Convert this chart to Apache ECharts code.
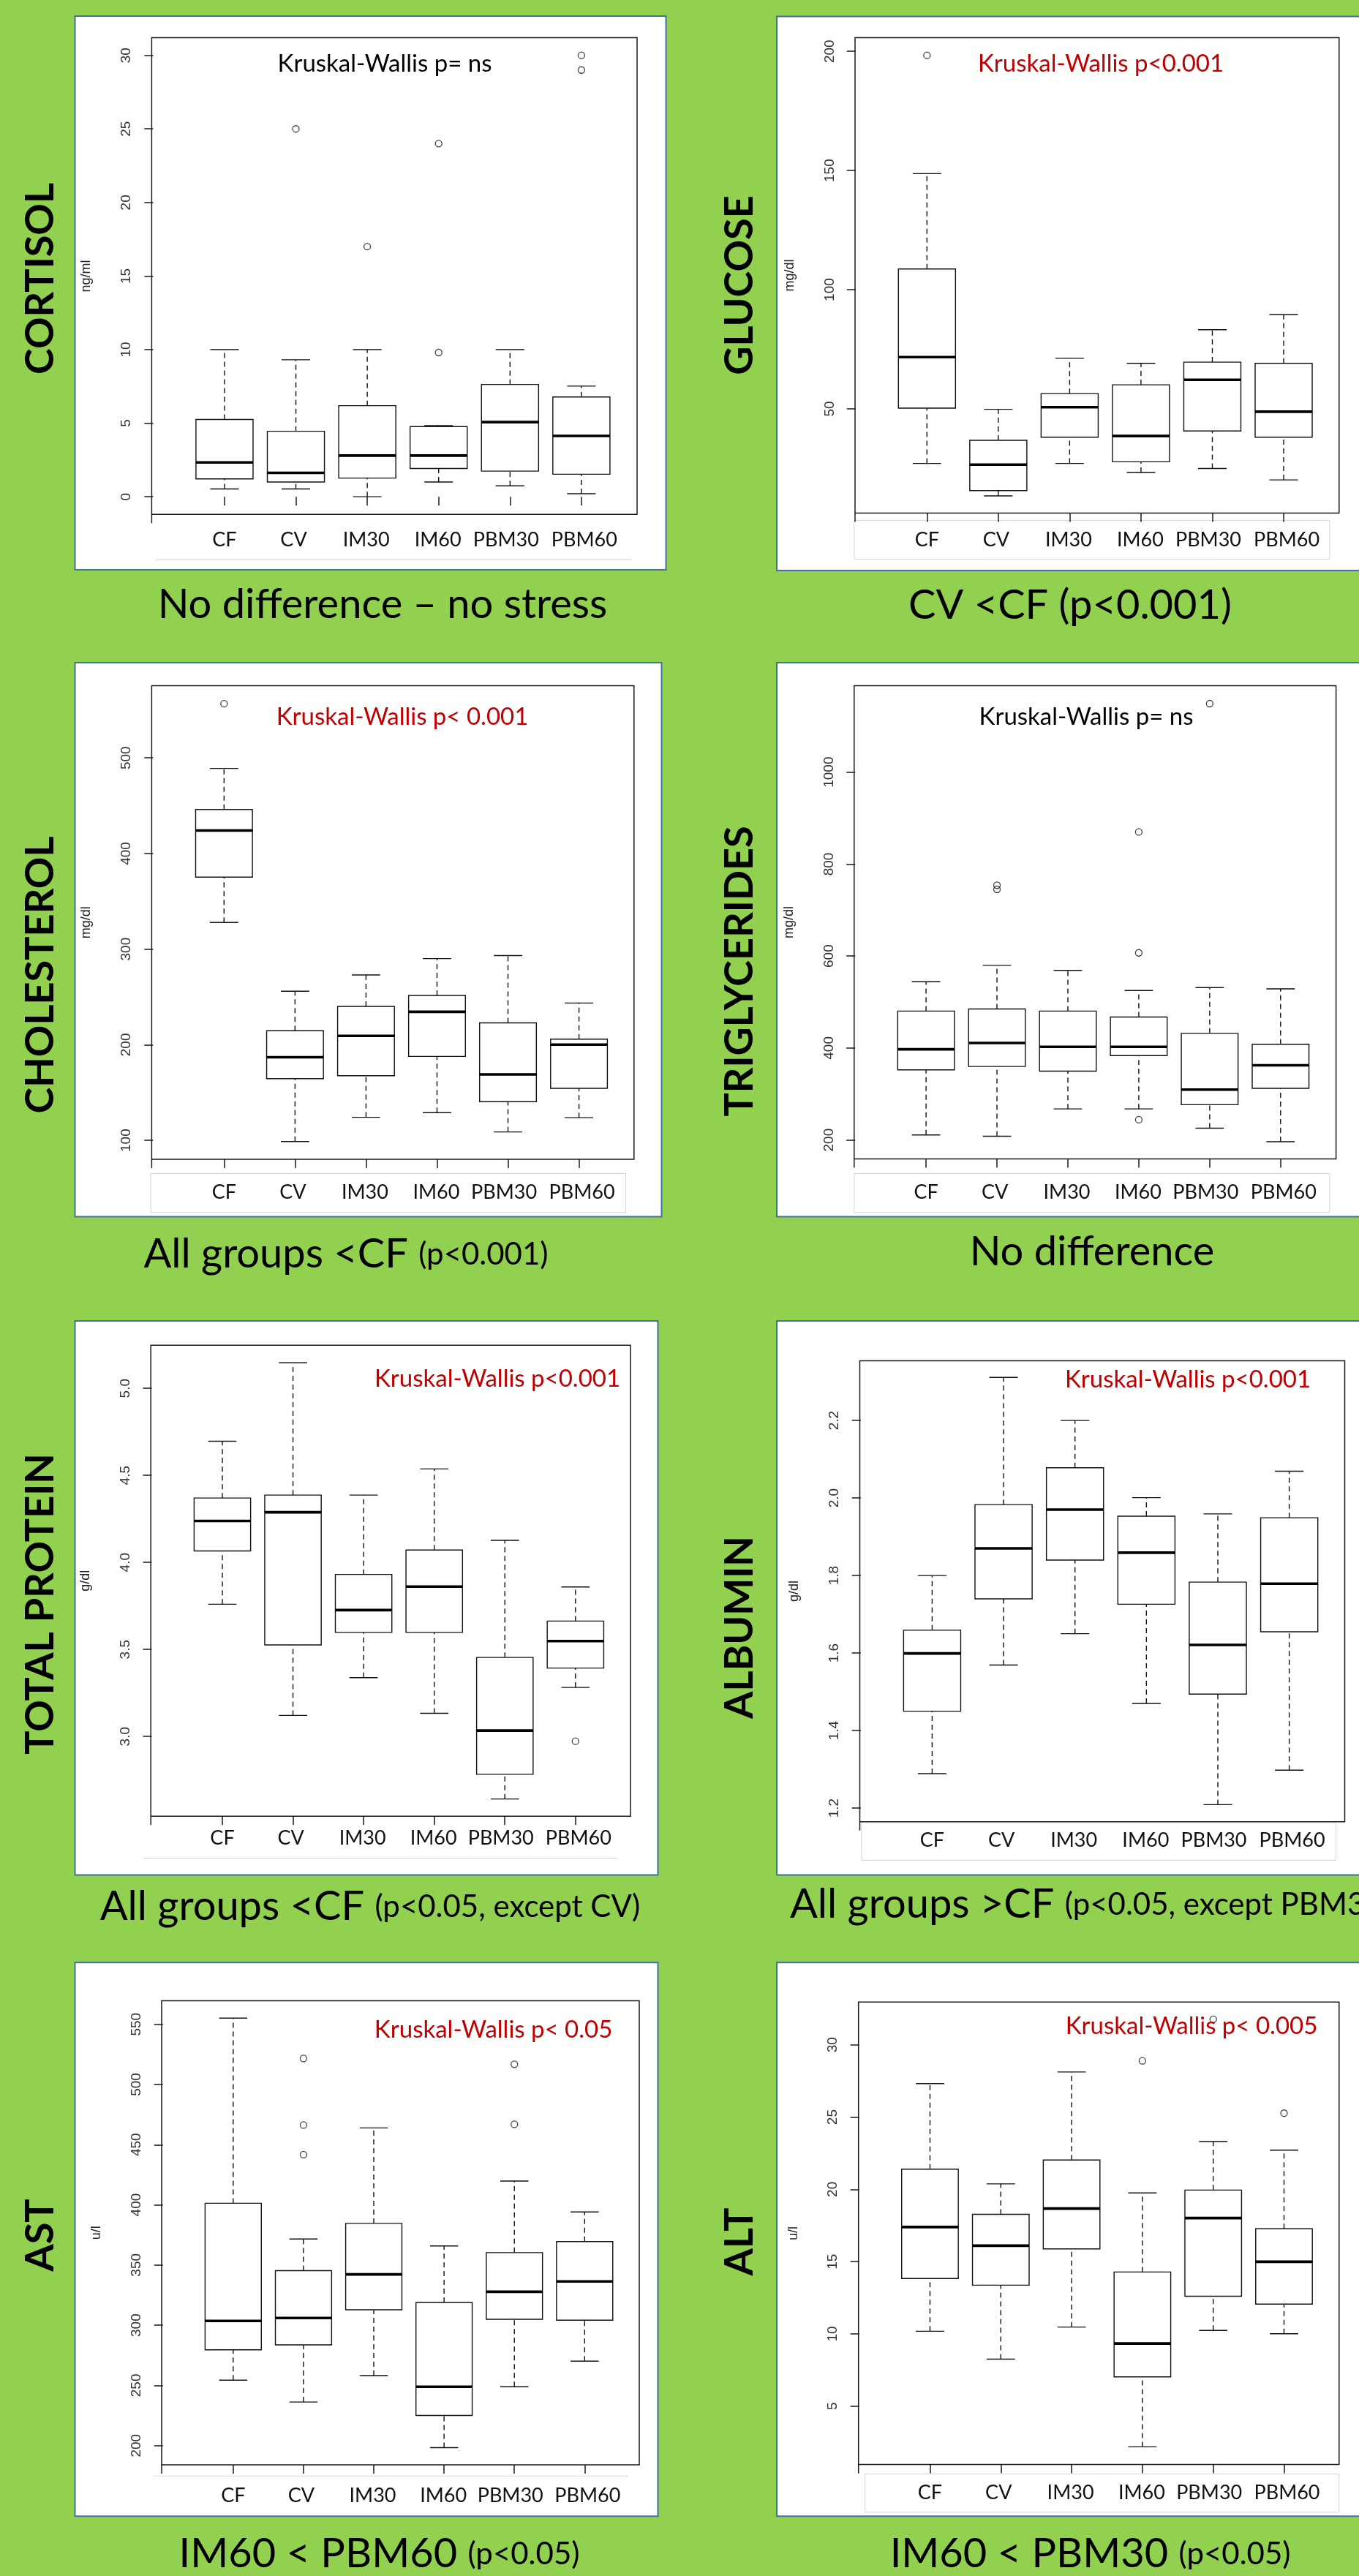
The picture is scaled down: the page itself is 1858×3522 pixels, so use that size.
<!DOCTYPE html>
<html lang="en">
<head>
<meta charset="UTF-8">
<title>Serum biochemistry boxplots</title>
<script src="https://cdn.jsdelivr.net/npm/echarts@6/dist/echarts.min.js"></script>
<style>
  html, body { margin: 0; padding: 0; background: #92D050; }
  #chart { width: 1858px; height: 3522px; }
</style>
</head>
<body>
<div id="chart"></div>
<script>
let groups = ['CF', 'CV', 'IM30', 'IM60', 'PBM30', 'PBM60']

// each row: lower whisker, Q1, median, Q3, upper whisker (one row per group)
let cortisolBox = [[0.53, 1.21, 2.33, 5.25, 10.0], [0.53, 1.0, 1.62, 4.45, 9.31], [0.0, 1.27, 2.8, 6.19, 10.0],
                   [1.0, 1.92, 2.8, 4.77, 4.83], [0.74, 1.74, 5.07, 7.63, 10.0], [0.21, 1.53, 4.13, 6.78, 7.52]]
let cortisolOut = [['CV', 25], ['IM30', 17], ['IM60', 24], ['IM60', 9.8], ['PBM60', 30], ['PBM60', 29]]
let cortisolTicks = [0, 5, 10, 15, 20, 25, 30]

let glucoseBox = [[27.1, 50.3, 71.7, 108.7, 148.7], [13.5, 15.7, 26.6, 36.8, 49.8], [27.1, 38.1, 50.7, 56.4, 71.2],
                  [23.3, 27.8, 38.6, 60.1, 69.1], [25.0, 40.7, 62.2, 69.6, 83.2], [20.2, 38.1, 48.8, 69.1, 89.5]]
let glucoseOut = [['CF', 198.3]]
let glucoseTicks = [50, 100, 150, 200]

let cholesterolBox = [[327.9, 375.3, 424, 446, 489], [98.7, 164.5, 186.9, 214.6, 255.9], [124.1, 167.6, 209.3, 240.1, 273],
                      [129, 187.8, 234.4, 251.5, 290.1], [108.8, 140.4, 168.9, 222.9, 293.2], [123.7, 154.4, 200.1, 205.8, 243.6]]
let cholesterolOut = [['CF', 556.6]]
let cholesterolTicks = [100, 200, 300, 400, 500]

let triglyceridesBox = [[211, 352.5, 397.2, 480.3, 544.2], [208.2, 359.8, 410.9, 484.9, 579.8], [267.6, 349.7, 402.7, 480.3, 568.9],
                        [267.6, 383.5, 402.7, 467.5, 525], [225.6, 276.7, 309.6, 431.9, 531.4], [196.3, 312.3, 362.5, 408.2, 528.7]]
let triglyceridesOut = [['CV', 754], ['CV', 745], ['IM60', 870], ['IM60', 607], ['IM60', 244], ['PBM30', 1149]]
let triglyceridesTicks = [200, 400, 600, 800, 1000]

let proteinBox = [[3.76, 4.066, 4.238, 4.37, 4.696], [3.121, 3.526, 4.288, 4.387, 5.147], [3.338, 3.598, 3.726, 3.931, 4.387],
                  [3.133, 3.598, 3.861, 4.071, 4.537], [2.641, 2.783, 3.034, 3.454, 4.127], [3.282, 3.393, 3.548, 3.663, 3.859]]
let proteinOut = [['PBM60', 2.973]]
let proteinTicks = [3.0, 3.5, 4.0, 4.5, 5.0]

let albuminBox = [[1.289, 1.45, 1.599, 1.659, 1.80], [1.569, 1.74, 1.87, 1.983, 2.311], [1.65, 1.84, 1.97, 2.078, 2.2],
                  [1.47, 1.726, 1.859, 1.953, 2.001], [1.209, 1.494, 1.621, 1.783, 1.959], [1.298, 1.655, 1.779, 1.949, 2.069]]
let albuminOut = []
let albuminTicks = [1.2, 1.4, 1.6, 1.8, 2.0, 2.2]

let astBox = [[254.3, 279.6, 303.6, 401.3, 555.1], [236.2, 283.7, 306, 345.3, 371.6], [258.1, 312.8, 342.2, 384.6, 463.9],
              [198.3, 225, 248.9, 318.9, 365.8], [248.9, 304.9, 327.8, 360.3, 419.8], [270.1, 304.2, 336.4, 369.5, 394.1]]
let astOut = [['CV', 521.6], ['CV', 466.3], ['CV', 441.7], ['PBM30', 516.8], ['PBM30', 466.9]]
let astTicks = [200, 250, 300, 350, 400, 450, 500, 550]

let altBox = [[10.18, 13.83, 17.39, 21.4, 27.32], [8.25, 13.37, 16.1, 18.27, 20.38], [10.47, 15.88, 18.67, 22.03, 28.12],
              [2.18, 7.02, 9.33, 14.28, 19.75], [10.24, 12.6, 18.01, 19.95, 23.31], [10.01, 12.06, 14.99, 17.27, 22.71]]
let altOut = [['IM60', 28.89], ['PBM30', 31.77], ['PBM60', 25.27]]
let altTicks = [5, 10, 15, 20, 25, 30]

const RED = '#C00000'

// layout of every panel (page pixels)
let panels = [
    {title: 'CORTISOL', unit: 'ng/ml', box: cortisolBox, out: cortisolOut, ticks: cortisolTicks, dec: 0,
     test: 'Kruskal-Wallis p= ns', testColor: '#000', big: 'No difference \u2013 no stress', small: '',
     grid: [207.4, 51.5, 871, 703.3], xr: [-0.02, 6.78], yr: [-1.2, 31.2], labelGap: 36,
     card: [102.5, 22, 808, 757], testAt: [526, 87], titleAt: [56, 381], noteAt: [523, 826.5],
     lbox: [213, 713, 863, 765.5, 'line']},
    {title: 'GLUCOSE', unit: 'mg/dl', box: glucoseBox, out: glucoseOut, ticks: glucoseTicks, dec: 0,
     test: 'Kruskal-Wallis p<0.001', testColor: RED, big: 'CV <CF (p<0.001)', small: '',
     grid: [1169, 51.6, 1830.8, 701.5], xr: [-0.008, 6.777], yr: [6.27, 205.7], labelGap: 38,
     card: [1062, 22.4, 830, 757.6], testAt: [1505, 87], titleAt: [1012, 390], noteAt: [1463, 828],
     lbox: [1167.8, 711.6, 1817.8, 764.4, 'rect']},
    {title: 'CHOLESTEROL', unit: 'mg/dl', box: cholesterolBox, out: cholesterolOut, ticks: cholesterolTicks, dec: 0,
     test: 'Kruskal-Wallis p< 0.001', testColor: RED, big: 'All groups <CF ', small: '(p<0.001)',
     grid: [207.4, 937.5, 866.8, 1585], xr: [-0.019, 6.775], yr: [80.2, 575.5], labelGap: 47,
     card: [102.5, 906, 802, 757.6], testAt: [550, 980.5], titleAt: [56, 1333], noteAt: [473, 1715],
     lbox: [206, 1604.5, 855.6, 1657.9, 'rect']},
    {title: 'TRIGLYCERIDES', unit: 'mg/dl', box: triglyceridesBox, out: triglyceridesOut, ticks: triglyceridesTicks, dec: 0,
     test: 'Kruskal-Wallis p= ns', testColor: '#000', big: 'No difference', small: '',
     grid: [1167.8, 937.5, 1826.6, 1584.4], xr: [-0.014, 6.782], yr: [159, 1188], labelGap: 47.6,
     card: [1062, 906, 830, 757.6], testAt: [1485, 980.5], titleAt: [1012, 1328], noteAt: [1493, 1712],
     lbox: [1167.8, 1604.5, 1817.8, 1657.9, 'rect']},
    {title: 'TOTAL PROTEIN', unit: 'g/dl', box: proteinBox, out: proteinOut, ticks: proteinTicks, dec: 1,
     test: 'Kruskal-Wallis p<0.001', testColor: RED, big: 'All groups <CF ', small: '(p<0.05, except CV)',
     grid: [206.2, 1839.2, 862, 2483.2], xr: [-0.013, 6.779], yr: [2.542, 5.248], labelGap: 31.6,
     card: [102.5, 1806, 797, 757.6], testAt: [680, 1885], titleAt: [56, 2193], noteAt: [506, 2607],
     lbox: [195.5, 2540.6, 844.3, 2540.6, 'line']},
    {title: 'ALBUMIN', unit: 'g/dl', box: albuminBox, out: albuminOut, ticks: albuminTicks, dec: 1, noXTicks: true,
     test: 'Kruskal-Wallis p<0.001', testColor: RED, big: 'All groups >CF ', small: '(p<0.05, except PBM30)',
     grid: [1175.5, 1860.5, 1838.5, 2490.7], xr: [-0.013, 6.777], yr: [1.165, 2.354], labelGap: 27,
     card: [1062, 1806, 830, 757.6], testAt: [1624, 1886], titleAt: [1012, 2225], noteAt: [1080, 2604], noteLeft: true,
     lbox: [1177.9, 2490.7, 1826.6, 2543.5, 'rect']},
    {title: 'AST', unit: 'u/l', box: astBox, out: astOut, ticks: astTicks, dec: 0,
     test: 'Kruskal-Wallis p< 0.05', testColor: RED, big: 'IM60 < PBM60 ', small: '(p<0.05)',
     grid: [221, 2735.6, 874, 3370], xr: [-0.018, 6.777], yr: [184, 569.5], labelGap: 43.4,
     card: [102.5, 2683.3, 797, 757], testAt: [674.6, 2775], titleAt: [56, 3056], noteAt: [518.5, 3492],
     lbox: [210, 3385.3, 859, 3385.3, 'line']},
    {title: 'ALT', unit: 'u/l', box: altBox, out: altOut, ticks: altTicks, dec: 0,
     test: 'Kruskal-Wallis p< 0.005', testColor: RED, big: 'IM60 < PBM30 ', small: '(p<0.05)',
     grid: [1173.7, 2737.3, 1830.8, 3369.6], xr: [-0.01, 6.778], yr: [0.956, 32.96], labelGap: 40,
     card: [1062, 2683.3, 830, 757], testAt: [1629, 2770.5], titleAt: [1012, 3065], noteAt: [1490.6, 3492],
     lbox: [1182.6, 3382.5, 1830.8, 3434.8, 'rect']}
]

// the pasted group labels sit a little off their ticks
let labelFont = {fontFamily: 'Lato', fontSize: 27, color: '#111'}
let labelRich = {
    g0: Object.assign({padding: [0, 0, 0, 0]}, labelFont),
    g1: Object.assign({padding: [0, 6, 0, 0]}, labelFont),
    g2: Object.assign({padding: [0, 3, 0, 0]}, labelFont),
    g3: Object.assign({padding: [0, 2, 0, 0]}, labelFont),
    g4: Object.assign({padding: [0, 11, 0, 0]}, labelFont),
    g5: Object.assign({padding: [0, 0, 0, 8]}, labelFont)
}

function drawBox(params, api) {
    let x = api.value(0)
    let pts = [1, 2, 3, 4, 5].map(function (d) { return api.coord([x, api.value(d)]) })
    let cx = pts[0][0]
    let half = api.size([0.4, 0])[0]
    let cap = api.size([0.2, 0])[0]
    let thin = {stroke: '#111', lineWidth: 1.4}
    let dash = {stroke: '#111', lineWidth: 1.4, lineDash: [7, 5]}
    return {
        type: 'group',
        children: [
            {type: 'line', shape: {x1: cx, y1: pts[0][1], x2: cx, y2: pts[1][1]}, style: dash},
            {type: 'line', shape: {x1: cx, y1: pts[3][1], x2: cx, y2: pts[4][1]}, style: dash},
            {type: 'line', shape: {x1: cx - cap, y1: pts[0][1], x2: cx + cap, y2: pts[0][1]}, style: thin},
            {type: 'line', shape: {x1: cx - cap, y1: pts[4][1], x2: cx + cap, y2: pts[4][1]}, style: thin},
            {type: 'rect', shape: {x: cx - half, y: pts[3][1], width: 2 * half, height: pts[1][1] - pts[3][1]},
             style: {stroke: '#111', lineWidth: 1.4, fill: '#fff'}},
            {type: 'line', shape: {x1: cx - half, y1: pts[2][1], x2: cx + half, y2: pts[2][1]},
             style: {stroke: '#000', lineWidth: 3.6}}
        ]
    }
}

let option = {
    backgroundColor: '#92D050',
    animation: false,
    grid: [], xAxis: [], yAxis: [], series: [], graphic: []
}

panels.forEach(function (p, i) {
    let g = p.grid
    option.grid.push({
        left: g[0], top: g[1], width: g[2] - g[0], height: g[3] - g[1],
        show: true, backgroundColor: '#fff', borderColor: '#1a1a1a', borderWidth: 1.5
    })
    option.xAxis.push({
        type: 'value', gridIndex: i, min: p.xr[0], max: p.xr[1],
        splitLine: {show: false}, axisLine: {show: false},
        axisTick: {show: !p.noXTicks, customValues: [1, 2, 3, 4, 5, 6], length: 12,
                   lineStyle: {color: '#1a1a1a', width: 1.5}},
        axisLabel: {customValues: [1, 2, 3, 4, 5, 6], margin: p.labelGap - 15,
                    formatter: function (v) {
                        let k = Math.round(v) - 1
                        return '{g' + k + '|' + groups[k] + '}'
                    },
                    rich: labelRich, fontFamily: 'Lato', fontSize: 27, color: '#111'}
    })
    option.yAxis.push({
        type: 'value', gridIndex: i, min: p.yr[0], max: p.yr[1],
        splitLine: {show: false}, axisLine: {show: false},
        axisTick: {customValues: p.ticks, length: 12, lineStyle: {color: '#1a1a1a', width: 1.5}},
        axisLabel: {customValues: p.ticks, rotate: 90, margin: 25,
                    formatter: function (v) { return v.toFixed(p.dec) },
                    fontFamily: 'Liberation Sans', fontSize: 19, color: '#333'},
        name: p.unit, nameLocation: 'middle', nameRotate: 90, nameGap: 80,
        nameTextStyle: {fontFamily: 'Liberation Sans', fontSize: 18, color: '#222'}
    })
    option.series.push({
        type: 'custom', xAxisIndex: i, yAxisIndex: i, renderItem: drawBox, silent: true, z: 3,
        encode: {x: 0, y: [1, 2, 3, 4, 5]},
        data: p.box.map(function (r, k) { return [k + 1].concat(r) })
    })
    option.series.push({
        type: 'scatter', xAxisIndex: i, yAxisIndex: i, silent: true, z: 4,
        symbol: 'circle', symbolSize: 9,
        itemStyle: {color: 'rgba(0,0,0,0)', borderColor: '#111', borderWidth: 1.3},
        data: p.out.map(function (o) { return [groups.indexOf(o[0]) + 1, o[1]] })
    })

    // white card with a thin blue frame
    option.graphic.push({
        type: 'rect', z: -10, shape: {x: p.card[0], y: p.card[1], width: p.card[2], height: p.card[3]},
        style: {fill: '#fff', stroke: '#41719C', lineWidth: 2}
    })
    // frame of the pasted group labels
    let b = p.lbox
    if (b[4] === 'rect') {
        option.graphic.push({type: 'rect', z: -5, shape: {x: b[0], y: b[1], width: b[2] - b[0], height: b[3] - b[1]},
                             style: {fill: null, stroke: '#d4d4d4', lineWidth: 1}})
    } else {
        option.graphic.push({type: 'line', z: -5, shape: {x1: b[0], y1: b[3], x2: b[2], y2: b[3]},
                             style: {stroke: '#d4d4d4', lineWidth: 1}})
    }
    // left frame line runs on past the tick marks
    option.graphic.push({type: 'line', z: 50, shape: {x1: g[0], y1: g[3], x2: g[0], y2: g[3] + 12},
                         style: {stroke: '#1a1a1a', lineWidth: 1.5}})
    // rotated panel title
    option.graphic.push({
        type: 'text', z: 100, x: p.titleAt[0], y: p.titleAt[1], rotation: Math.PI / 2,
        style: {text: p.title, font: 'bold 54px Lato', fill: '#000',
                textAlign: 'center', textVerticalAlign: 'middle', align: 'center', verticalAlign: 'middle'}
    })
    // Kruskal-Wallis note inside the plot
    option.graphic.push({
        type: 'text', z: 100, x: p.testAt[0], y: p.testAt[1],
        style: {text: p.test, font: '33px Lato', fill: p.testColor,
                textAlign: 'center', textVerticalAlign: 'middle', align: 'center', verticalAlign: 'middle'}
    })
    // caption under the card
    let rich = '{a|' + p.big + '}' + (p.small ? '{b|' + p.small + '}' : '')
    let al = p.noteLeft ? 'left' : 'center'
    option.graphic.push({
        type: 'text', z: 100, x: p.noteAt[0], y: p.noteAt[1],
        style: {text: rich, fill: '#000', textAlign: al, textVerticalAlign: 'middle', align: al, verticalAlign: 'middle',
                rich: {a: {fontFamily: 'Lato', fontSize: 56, fill: '#000'},
                       b: {fontFamily: 'Lato', fontSize: 42, fill: '#000'}}}
    })
})

var bioChart = echarts.init(document.getElementById('chart'))
bioChart.setOption(option)
</script>
</body>
</html>
